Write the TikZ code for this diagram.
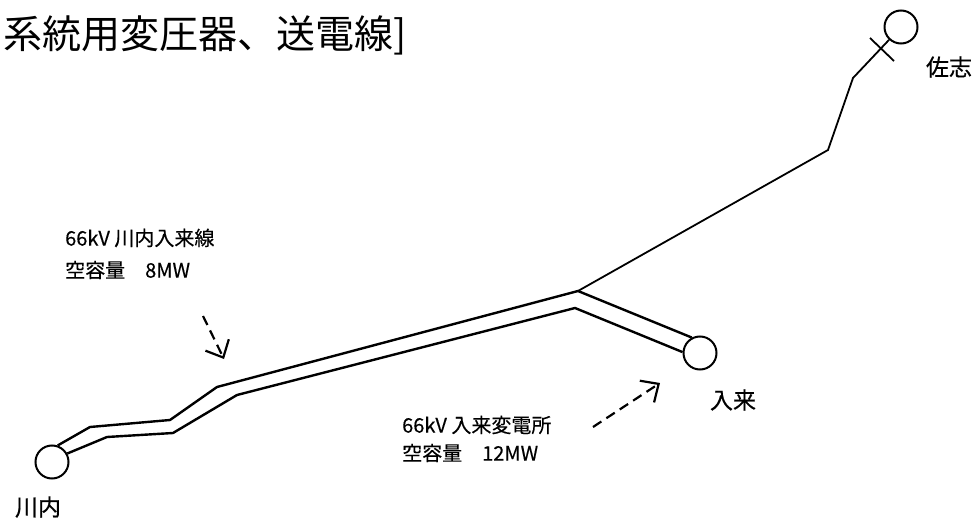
\documentclass[tikz,border=0pt]{standalone}
\usepackage{fontspec}
\setmainfont{Noto Sans CJK JP}
\newfontfamily\medfont[FakeBold=0.6]{Noto Sans CJK JP}
\newfontfamily\lblfont[FakeBold=0.3]{Noto Sans CJK JP}
\usetikzlibrary{arrows.meta}
\begin{document}
\begin{tikzpicture}[x=1pt,y=-1pt,
  station/.style={circle,draw,line width=2pt,minimum size=33pt,inner sep=0pt},
  wire/.style={line width=2.4pt,line join=miter},
  thin wire/.style={line width=1.8pt},
  pointer/.style={line width=2.2pt,dash pattern=on 10pt off 6pt,-{Straight Barb[length=14pt,width=26pt,line width=2.2pt]}},
  lbl/.style={font=\lblfont\fontsize{20}{24}\selectfont,anchor=west,inner sep=0pt},
  stname/.style={font=\medfont\fontsize{23}{27}\selectfont,inner sep=0pt}]
\useasboundingbox (0,0) rectangle (978,519);
% title
\node[anchor=west,inner sep=0pt,font=\fontsize{39}{44}\selectfont] (title) at (3,35) {系統用変圧器、送電線]};
% stations
\node[station] (sendai) at (52,462) {};
\node[station] (iriki) at (700,353) {};
\node[station] (saga) at (901,27) {};
\node[stname] (sendaiL) at (38,507) {川内};
\node[stname] (irikiL) at (733,400) {入来};
\node[stname] (sagaL) at (949,67) {佐志};
% route points
\coordinate (u1) at (90,427);
\coordinate (u2) at (170,420);
\coordinate (u3) at (217,387);
\coordinate (J) at (578,291);
\coordinate (l1) at (107,437);
\coordinate (l2) at (173,433);
\coordinate (l3) at (237,395);
\coordinate (l4) at (575,308);
\coordinate (s1) at (828,150);
\coordinate (s2) at (853,78);
\coordinate (tickA) at (870,38);
\coordinate (tickB) at (894,61);
% double line
\draw[wire] (sendai.71.6) -- (u1) -- (u2) -- (u3) -- (J) -- (iriki.118);
\draw[wire] (sendai.29) -- (l1) -- (l2) -- (l3) -- (l4) -- (iriki.177);
% line to Saga
\draw[thin wire] (J) -- (s1) -- (s2) -- (saga.227);
\draw[thin wire] (tickA) -- (tickB);
% labels
\node[lbl] (t1a) at (65,238) {66kV 川内入来線};
\node[lbl] (t1b) at (65,270) {空容量　8MW};
\node[lbl] (t2a) at (402,425) {66kV 入来変電所};
\node[lbl] (t2b) at (402,453) {空容量　12MW};
% pointers
\coordinate (a1s) at (203,316);
\coordinate (a1e) at (224,359);
\coordinate (a2s) at (593,427);
\coordinate (a2e) at (660,383);
\draw[pointer] (a1s) -- (a1e);
\draw[pointer] (a2s) -- (a2e);
\end{tikzpicture}
\end{document}
